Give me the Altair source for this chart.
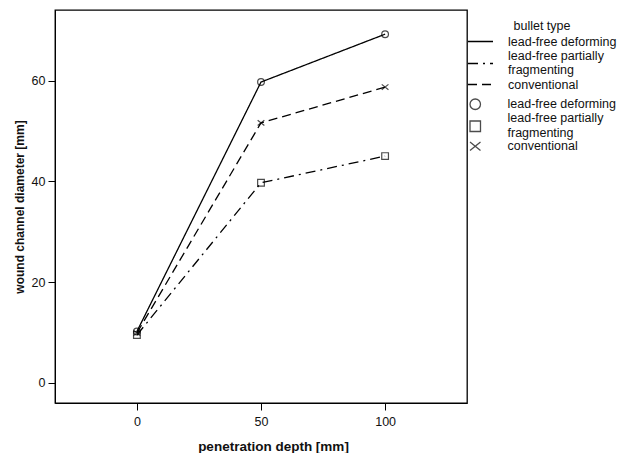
import altair as alt
import pandas as pd

# Wound channel diameter by penetration depth for three bullet types
bullet_types = ["lead-free deforming", "lead-free partially fragmenting", "conventional"]
depth_mm = [0, 50, 100]
deforming = [10.2, 59.7, 69.2]
partially_fragmenting = [9.5, 39.7, 45.0]
conventional = [9.9, 51.6, 58.7]

# marker categories carry a trailing space so the symbol key stays a legend of its own
marker_types = [t + " " for t in bullet_types]

rows = []
for name, mark_name, values in zip(
    bullet_types, marker_types, [deforming, partially_fragmenting, conventional]
):
    for d, v in zip(depth_mm, values):
        rows.append({"bullet type": name, "marker": mark_name, "depth": d, "diameter": v})
df = pd.DataFrame(rows)

FONT = "Liberation Sans"
x_ticks = [0, 50, 100]
y_ticks = [0, 20, 40, 60]

x_enc = alt.X(
    "depth:Q",
    title="penetration depth [mm]",
    scale=alt.Scale(domain=[-33, 133], nice=False, zero=False),
    axis=alt.Axis(values=x_ticks, grid=False, tickSize=7, labelPadding=5, titlePadding=12,
                  titleFontSize=13.5, titleX=218),
)
y_enc = alt.Y(
    "diameter:Q",
    title="wound channel diameter [mm]",
    scale=alt.Scale(domain=[-4, 74], nice=False, zero=False),
    axis=alt.Axis(values=y_ticks, grid=False, tickSize=7, labelPadding=3, titlePadding=5),
)

# the long category name wraps onto two lines, centred on its key symbol
is_long = "indexof(datum.label, 'partially') >= 0"
wrap_label = f"{is_long} ? ['lead-free partially', 'fragmenting'] : datum.label"
wrap_baseline = alt.ExprRef(expr=f"{is_long} ? 'line-bottom' : 'middle'")

lines = alt.Chart(df).mark_line(color="black", strokeWidth=1.3).encode(
    x=x_enc,
    y=y_enc,
    strokeDash=alt.StrokeDash(
        "bullet type:N",
        scale=alt.Scale(domain=bullet_types, range=[[1, 0], [10, 5, 2, 5], [9, 5]]),
        legend=alt.Legend(
            title="bullet type",
            orient="none",
            legendX=412,
            legendY=10,
            titleAnchor="middle",
            titleFontWeight="normal",
            titleFontSize=12.5,
            titlePadding=2,
            symbolType="stroke",
            symbolSize=625,
            symbolStrokeColor="black",
            symbolStrokeWidth=1.3,
            clipHeight=14,
            labelFontSize=12.5,
            labelOffset=14,
            labelExpr=wrap_label,
            labelBaseline=wrap_baseline,
            rowPadding=1,
        ),
    ),
    detail="bullet type:N",
)

x_path = "M-1,-0.8L1,0.8M-1,0.8L1,-0.8"
points = alt.Chart(df).mark_point(filled=False, color="black", size=45, strokeWidth=1.2).encode(
    x="depth:Q",
    y="diameter:Q",
    shape=alt.Shape(
        "marker:N",
        scale=alt.Scale(domain=marker_types, range=["circle", "square", x_path]),
        legend=alt.Legend(
            title=None,
            orient="none",
            legendX=414,
            legendY=88,
            symbolSize=110,
            symbolStrokeColor="black",
            symbolStrokeWidth=1.3,
            symbolFillColor="transparent",
            labelFontSize=12.5,
            labelOffset=26,
            labelExpr=wrap_label,
            labelBaseline=wrap_baseline,
            rowPadding=-1,
        ),
    ),
)

chart = (
    alt.layer(lines, points)
    .properties(
        width=412,
        height=393,
        padding={"left": 55, "top": 10, "right": 152, "bottom": 50},
        autosize=alt.AutoSizeParams(type="none"),
    )
    .configure(font=FONT)
    .configure_view(stroke="black", strokeWidth=1.3)
    .configure_axis(
        domainColor="black",
        tickColor="black",
        labelColor="#111",
        titleColor="#111",
        labelFontSize=12.5,
        titleFontSize=12,
        titleFontWeight="bold",
        labelFont=FONT,
        titleFont=FONT,
    )
    .configure_legend(labelFont=FONT, titleFont=FONT, labelColor="#111", titleColor="#111")
)

chart.save("out.html", embed_options={"renderer": "svg", "actions": False})
